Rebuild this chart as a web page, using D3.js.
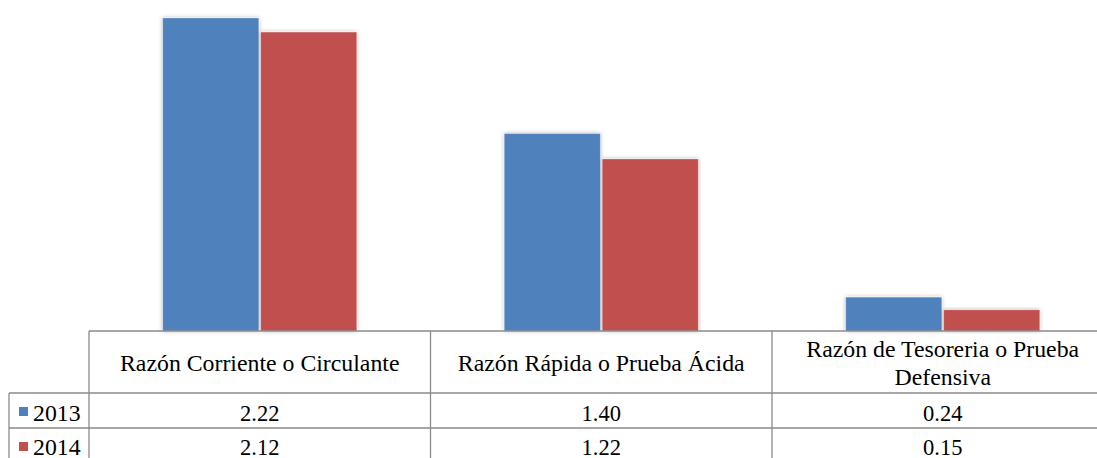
<!DOCTYPE html>
<html>
<head>
<meta charset="utf-8">
<script src="https://cdn.jsdelivr.net/npm/d3@7"></script>
<style>
  html, body { margin: 0; padding: 0; background: #fff; }
  svg { display: block; }
</style>
</head>
<body>
<svg id="chart" width="1097" height="458"></svg>
<script>
// Liquidity ratios, 2013 vs 2014
const categories = [
  ["Razón Corriente o Circulante"],
  ["Razón Rápida o Prueba Ácida"],
  ["Razón de Tesoreria o Prueba", "Defensiva"]
];
const categoryKeys = categories.map(c => c.join(" "));
const years = ["2013", "2014"];
const values2013 = [2.22, 1.40, 0.24];
const values2014 = [2.12, 1.22, 0.15];
const valueLabels2013 = ["2.22", "1.40", "0.24"];
const valueLabels2014 = ["2.12", "1.22", "0.15"];
const colors = ["#4F81BD", "#C0504D"];

const series = [values2013, values2014];
const seriesLabels = [valueLabels2013, valueLabels2014];

const FONT = "'Liberation Serif', 'Times New Roman', Times, 'DejaVu Serif', serif";
const headerSize = 23.8;
const valueSize = 22.5;

const svg = d3.select("#chart");

// Soft shadow under each column
const defs = svg.append("defs");
const f = defs.append("filter").attr("id", "colShadow")
  .attr("x", "-10%").attr("y", "-10%").attr("width", "120%").attr("height", "120%");
f.append("feDropShadow").attr("dx", 0).attr("dy", 0).attr("stdDeviation", 2)
  .attr("flood-color", "#000").attr("flood-opacity", 0.3);

const baseY = 331;
const tableLeft = 89;
const legendLeft = 9;
const colWidth = 341.5;

const x0 = d3.scaleBand()
  .domain(categoryKeys)
  .range([tableLeft, tableLeft + colWidth * categoryKeys.length]);

const half = 97;
const x1 = d3.scaleBand()
  .domain(years)
  .range([x0.bandwidth() / 2 - half, x0.bandwidth() / 2 + half])
  .paddingInner(0.02);

const y = d3.scaleLinear().domain([0, 2.5]).range([baseY, baseY - 2.5 * 141]);

// Columns
const groups = svg.append("g").selectAll("g")
  .data(categoryKeys)
  .join("g")
  .attr("transform", d => `translate(${x0(d)},0)`);

groups.selectAll("rect")
  .data((d, i) => years.map((yr, s) => ({ yr, s, v: series[s][i] })))
  .join("rect")
  .attr("x", d => x1(d.yr))
  .attr("width", x1.bandwidth())
  .attr("y", d => y(d.v))
  .attr("height", d => y(0) - y(d.v))
  .attr("fill", d => colors[d.s])
  .attr("stroke", "#fff")
  .attr("stroke-opacity", 0.35)
  .attr("stroke-width", 0.8)
  .attr("filter", "url(#colShadow)");

// Data table grid
const rowEdges = [393, 428, 463];
const right = 1097;
const grid = svg.append("g").attr("stroke", "#8a8a8a").attr("stroke-width", 1.3).attr("fill", "none");

grid.append("line").attr("x1", tableLeft).attr("x2", right).attr("y1", baseY).attr("y2", baseY);
rowEdges.forEach(yy => {
  grid.append("line").attr("x1", legendLeft).attr("x2", right).attr("y1", yy).attr("y2", yy);
});
grid.append("line").attr("x1", legendLeft).attr("x2", legendLeft).attr("y1", rowEdges[0]).attr("y2", 463);
x0.domain().forEach(k => {
  grid.append("line").attr("x1", x0(k)).attr("x2", x0(k)).attr("y1", baseY).attr("y2", 463);
});

function label(g, x, yy, txt, size, anchor) {
  return g.append("text")
    .attr("x", x).attr("y", yy)
    .attr("text-anchor", anchor || "middle")
    .attr("font-family", FONT)
    .attr("font-size", size)
    .attr("fill", "#000")
    .text(txt);
}

// Category headers
const headers = svg.append("g");
categories.forEach((lines, i) => {
  const cx = x0(categoryKeys[i]) + x0.bandwidth() / 2;
  const lh = 28;
  const first = 371 - (lines.length - 1) * lh / 2 - (lines.length - 1) * 0.5;
  lines.forEach((ln, j) => label(headers, cx, first + j * lh, ln, headerSize));
});

// Value rows with legend keys
const rowBaselines = [420.5, 455];
years.forEach((yr, s) => {
  const top = rowEdges[s];
  const baseline = rowBaselines[s];
  svg.append("rect")
    .attr("x", 19).attr("y", top + 14)
    .attr("width", 9).attr("height", 9)
    .attr("fill", colors[s]);
  label(svg, 33, baseline, yr, headerSize, "start");
  categoryKeys.forEach((k, i) => {
    label(svg, x0(k) + x0.bandwidth() / 2, baseline, seriesLabels[s][i], valueSize);
  });
});
</script>
</body>
</html>
